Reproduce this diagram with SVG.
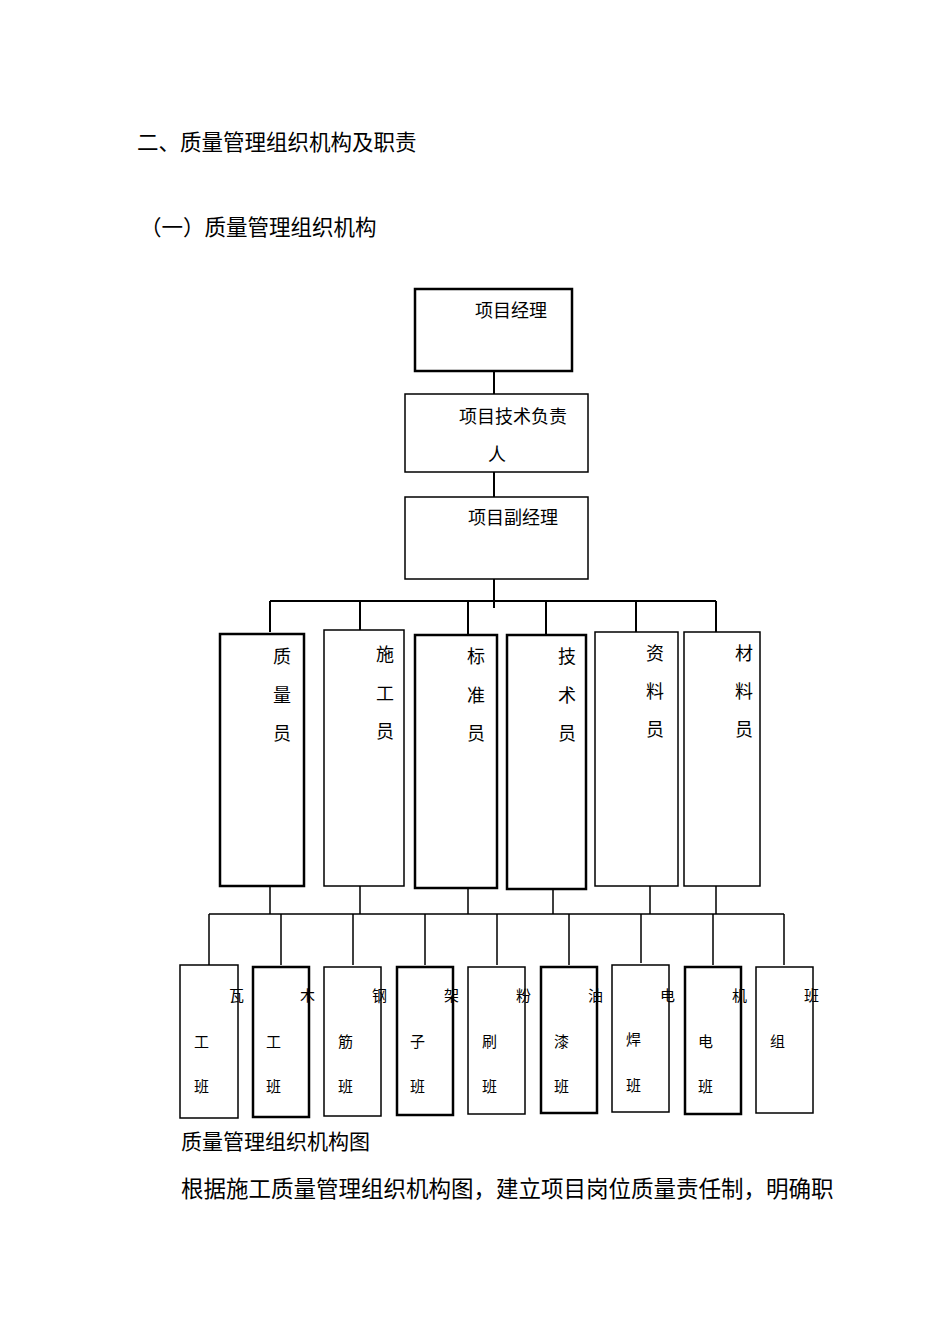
<svg xmlns="http://www.w3.org/2000/svg" width="950" height="1344" viewBox="0 0 950 1344">
<style>
.b{fill:#fff;stroke:#000;stroke-width:1.5}
.k{fill:#fff;stroke:#000;stroke-width:2.5}
.t{font-family:"Liberation Sans","Noto Sans CJK SC",sans-serif;font-size:18px;fill:#000}
.s{font-family:"Liberation Sans","Noto Sans CJK SC",sans-serif;font-size:15px;fill:#000}
.h{font-family:"Liberation Serif","Noto Sans CJK SC",serif;fill:#000}
.c{stroke:#000;stroke-width:1.5;fill:none}
</style>
<rect width="950" height="1344" fill="#fff"/>
<text class="h" x="137" y="150" font-size="21.5">二、质量管理组织机构及职责</text>
<text class="h" x="140" y="235" font-size="21.5">（一）质量管理组织机构</text>
<g id="connectors">
<path class="c" d="M494 371V394M494 472V497M494 579V608M270 601H716M270 601V632M360 601V630M468 601V635M546 601V635M636 601V632M716 601V632" style="stroke-width:2"/>
<path class="c" d="M270 886V914M360 886V914M468 888V914M553 889V914M650 886V914M716 886V914M209 914H784M209 914V965M281 914V965M353 914V965M425 914V965M497 914V965M569 914V965M641 914V963M713 914V965M784 914V965"/>
</g>
<g id="n1"><rect class="k" x="415" y="289" width="157" height="82"/><text class="t" x="475" y="317">项目经理</text></g>
<g id="n2"><rect class="b" x="405" y="394" width="183" height="78"/><text class="t" x="459" y="423">项目技术负责</text><text class="t" x="488" y="461">人</text></g>
<g id="n3"><rect class="b" x="405" y="497" width="183" height="82"/><text class="t" x="468" y="524">项目副经理</text></g>
<g id="m1"><rect class="k" x="220" y="634" width="84" height="252"/><text class="t" x="273" y="663">质</text><text class="t" x="273" y="702">量</text><text class="t" x="273" y="740">员</text></g>
<g id="m2"><rect class="b" x="324" y="630" width="80" height="256"/><text class="t" x="376" y="661">施</text><text class="t" x="376" y="700">工</text><text class="t" x="376" y="738">员</text></g>
<g id="m3"><rect class="k" x="415" y="635" width="82" height="253"/><text class="t" x="467" y="663">标</text><text class="t" x="467" y="702">准</text><text class="t" x="467" y="740">员</text></g>
<g id="m4"><rect class="k" x="507" y="635" width="79" height="254"/><text class="t" x="558" y="663">技</text><text class="t" x="558" y="702">术</text><text class="t" x="558" y="740">员</text></g>
<g id="m5"><rect class="b" x="595" y="632" width="83" height="254"/><text class="t" x="646" y="660">资</text><text class="t" x="646" y="698">料</text><text class="t" x="646" y="736">员</text></g>
<g id="m6"><rect class="b" x="684" y="632" width="76" height="254"/><text class="t" x="735" y="660">材</text><text class="t" x="735" y="698">料</text><text class="t" x="735" y="736">员</text></g>
<g id="w1"><rect class="b" x="180" y="965" width="58" height="153"/><text class="s" x="229" y="1001">瓦</text><text class="s" x="194" y="1047">工</text><text class="s" x="194" y="1092">班</text></g>
<g id="w2"><rect class="k" x="253" y="967" width="56" height="150"/><text class="s" x="300" y="1001">木</text><text class="s" x="266" y="1047">工</text><text class="s" x="266" y="1092">班</text></g>
<g id="w3"><rect class="b" x="324" y="967" width="57" height="149"/><text class="s" x="372" y="1001">钢</text><text class="s" x="338" y="1047">筋</text><text class="s" x="338" y="1092">班</text></g>
<g id="w4"><rect class="k" x="397" y="967" width="56" height="148"/><text class="s" x="444" y="1001">架</text><text class="s" x="410" y="1047">子</text><text class="s" x="410" y="1092">班</text></g>
<g id="w5"><rect class="b" x="468" y="967" width="57" height="147"/><text class="s" x="516" y="1001">粉</text><text class="s" x="482" y="1047">刷</text><text class="s" x="482" y="1092">班</text></g>
<g id="w6"><rect class="k" x="541" y="967" width="56" height="146"/><text class="s" x="588" y="1001">油</text><text class="s" x="554" y="1047">漆</text><text class="s" x="554" y="1092">班</text></g>
<g id="w7"><rect class="b" x="612" y="965" width="57" height="147"/><text class="s" x="660" y="1001">电</text><text class="s" x="626" y="1045">焊</text><text class="s" x="626" y="1091">班</text></g>
<g id="w8"><rect class="k" x="685" y="967" width="56" height="147"/><text class="s" x="732" y="1001">机</text><text class="s" x="698" y="1047">电</text><text class="s" x="698" y="1092">班</text></g>
<g id="w9"><rect class="b" x="756" y="967" width="57" height="146"/><text class="s" x="804" y="1001">班</text><text class="s" x="770" y="1047">组</text></g>
<text class="h" x="181" y="1149" font-size="21">质量管理组织机构图</text>
<text class="h" x="181" y="1197" font-size="22.5">根据施工质量管理组织机构图，建立项目岗位质量责任制，明确职</text>
</svg>
